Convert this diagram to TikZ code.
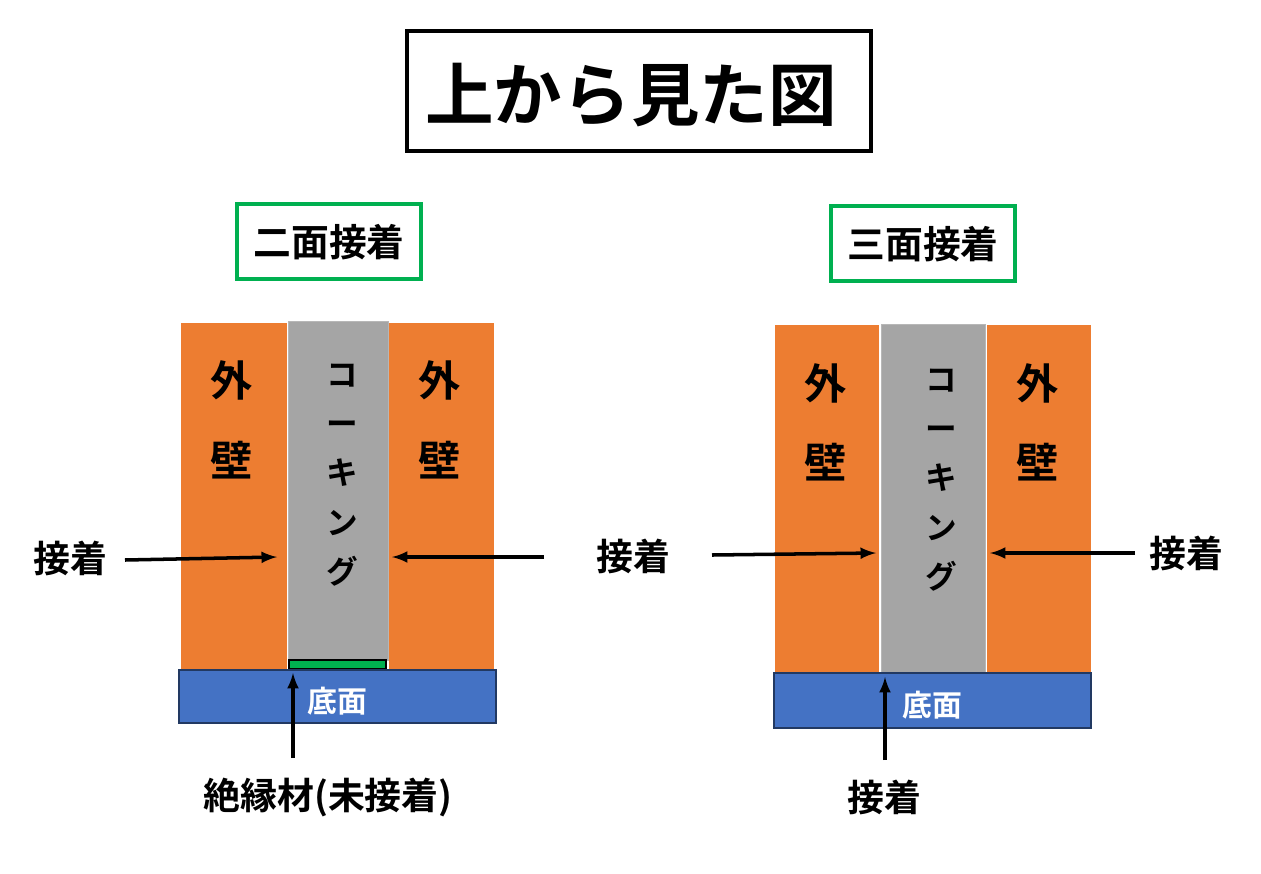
\documentclass[tikz,border=0pt]{standalone}
\usepackage{fontspec}
\newfontfamily\cjk{Noto Sans CJK JP}[BoldFont={Noto Sans CJK JP Bold}]
\definecolor{wallor}{HTML}{ED7D31}
\definecolor{caulk}{HTML}{A5A5A5}
\definecolor{basebl}{HTML}{4472C4}
\definecolor{tagrn}{HTML}{00B050}
\tikzset{
  wall/.style={fill=wallor,draw=none},
  caulkbox/.style={fill=caulk,draw=caulk!80!white},
  basebox/.style={fill=basebl,draw=basebl!50!black,line width=0.8pt},
  lbl/.style={font=\cjk\bfseries\fontsize{21}{21}\selectfont},
  walltxt/.style={font=\cjk\bfseries\fontsize{24}{24}\selectfont},
  arr/.style={-latex,line width=2pt},
}
\begin{document}
\begin{tikzpicture}[x=0.02cm,y=-0.02cm]
\useasboundingbox (0,0) rectangle (1261,873);
% title
\draw[line width=2pt] (407,31) rectangle (871,151);
\node[font=\cjk\bfseries\fontsize{39}{39}\selectfont] (title) at (631,95) {上から見た図};
\draw[tagrn,line width=2pt] (237,204) rectangle (421,279);
\node[lbl,font=\cjk\bfseries\fontsize{21.5}{21.5}\selectfont] (twoface) at (329,242) {二面接着};
\draw[tagrn,line width=2pt] (831,206) rectangle (1015,281);
\node[lbl,font=\cjk\bfseries\fontsize{21.5}{21.5}\selectfont] (threeface) at (923,244) {三面接着};

% left: two-face
\fill[wall] (181,323) rectangle (287,670);
\fill[wall] (389,323) rectangle (494,670);
\draw[caulkbox] (288,321) rectangle (388,660);
\draw[fill=tagrn,line width=0.8pt] (289,660) rectangle (386,669);
\draw[basebox] (179,670) rectangle (496,723);
\node[walltxt] (lwa) at (232,380) {外};
\node[walltxt] (lwb) at (232,460) {壁};
\node[walltxt] (lwc) at (440,380) {外};
\node[walltxt] (lwd) at (440,460) {壁};
\node[align=center,font=\cjk\bfseries\fontsize{18}{28}\selectfont] (lck) at (342,475) {コ\\ー\\キ\\ン\\グ};
\node[font=\cjk\bfseries\fontsize{17}{17}\selectfont,text=white] (lbase) at (337,701) {底面};
\node[lbl] (lgl) at (70,558) {接着};
\node[lbl] (lgr) at (633,556) {接着};
\coordinate (lgle) at (277,557);
\coordinate (lgre) at (392,557);
\draw[arr] (125,560) -- (lgle);
\draw[arr] (544,557) -- (lgre);
\node[lbl] (insul) at (328,797) {絶縁材(未接着)};
\coordinate (insule) at (293,673);
\draw[arr] (293,758) -- (insule);

% right: three-face
\fill[wall] (775,325) rectangle (879,673);
\fill[wall] (987,325) rectangle (1091,673);
\draw[caulkbox] (881,324) rectangle (985,673);
\draw[basebox] (774,673) rectangle (1091,728);
\node[walltxt] (rwa) at (826,383) {外};
\node[walltxt] (rwb) at (826,462) {壁};
\node[walltxt] (rwc) at (1038,383) {外};
\node[walltxt] (rwd) at (1038,462) {壁};
\node[align=center,font=\cjk\bfseries\fontsize{18}{28}\selectfont] (rck) at (941,480) {コ\\ー\\キ\\ン\\グ};
\node[font=\cjk\bfseries\fontsize{17}{17}\selectfont,text=white] (rbase) at (932,705) {底面};
\node[lbl] (rgr) at (1186,553) {接着};
\coordinate (rgle) at (876,553);
\coordinate (rgre) at (990,553);
\draw[arr] (712,555) -- (rgle);
\draw[arr] (1135,553) -- (rgre);
\node[lbl] (rbot) at (884,797) {接着};
\coordinate (rbote) at (885,677);
\draw[arr] (885,760) -- (rbote);
\end{tikzpicture}
\end{document}
